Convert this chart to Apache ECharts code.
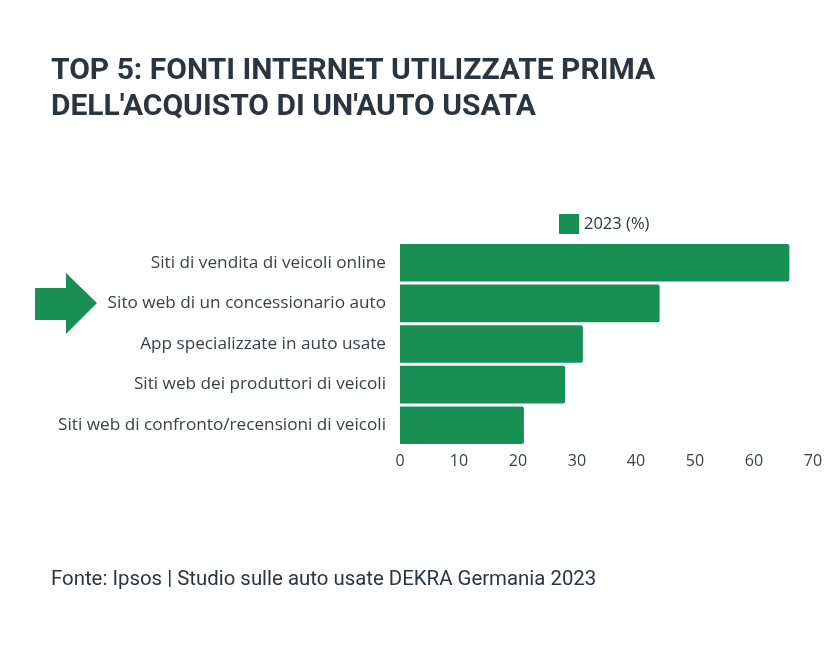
<!DOCTYPE html>
<html><head><meta charset="utf-8">
<script src="https://cdn.jsdelivr.net/npm/echarts@6/dist/echarts.min.js"></script>
<style>html,body{margin:0;padding:0;background:#fff}#c{width:832px;height:647px}</style>
</head><body><div id="c"></div>
<script>
const categories = ["Siti di vendita di veicoli online","Sito web di un concessionario auto","App specializzate in auto usate","Siti web dei produttori di veicoli","Siti web di confronto/recensioni di veicoli"];
const values = [66, 44, 31, 28, 21];
const seriesName = "2023 (%)";
const titleText = "TOP 5: FONTI INTERNET UTILIZZATE PRIMA\nDELL'ACQUISTO DI UN'AUTO USATA";
const sourceText = "Fonte: Ipsos | Studio sulle auto usate DEKRA Germania 2023";
const green = "#178f55";
const chart = echarts.init(document.getElementById('c'));
chart.setOption({
  animation:false,
  title:{text:titleText,left:46,top:48,textStyle:{fontFamily:"Roboto",fontWeight:"bold",fontSize:30,lineHeight:36,color:"#2b3540"}},
  legend:{data:[seriesName],left:554,top:209,itemWidth:20,itemHeight:20,itemGap:6,icon:"rect",
    textStyle:{fontFamily:"Open Sans",fontSize:16.5,color:"#2b3540"}},
  grid:{left:400,right:19,top:242.5,height:203,containLabel:false},
  xAxis:{type:"value",min:0,max:70,interval:10,splitLine:{show:false},axisLine:{show:false},axisTick:{show:false},
    axisLabel:{fontFamily:"Open Sans",fontSize:16,color:"#3a4048",margin:8}},
  yAxis:{type:"category",data:categories,inverse:true,axisLine:{show:false},axisTick:{show:false},
    axisLabel:{fontFamily:"Open Sans",fontSize:17.2,color:"#3a4048",margin:14}},
  series:[{name:seriesName,type:"bar",data:values,barCategoryGap:"7.5%",itemStyle:{color:green,borderRadius:[0,2,2,0]}}],
  graphic:[
    {type:"polygon",shape:{points:[[35,288],[66,288],[66,273],[97,303],[66,334],[66,320],[35,320]]},style:{fill:green}},
    {type:"text",left:51,top:570,style:{text:sourceText,fontFamily:"Roboto",fontSize:20.4,fill:"#2b3540"}}
  ]
});
</script></body></html>
